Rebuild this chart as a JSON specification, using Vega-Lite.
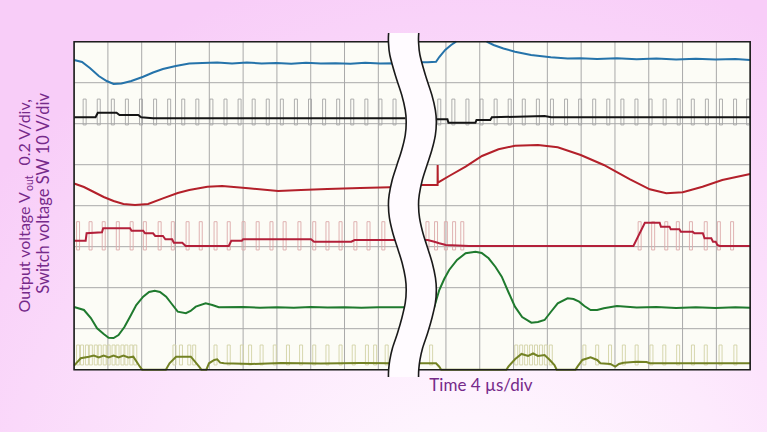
{
  "$schema": "https://vega.github.io/schema/vega-lite/v6.json",
  "width": 767,
  "height": 432,
  "padding": 0,
  "autosize": {"type": "fit", "contains": "padding"},
  "config": {
    "view": {"stroke": null, "fill": {"gradient": "radial", "x1": 0.62, "y1": 0.95, "r1": 0, "x2": 0.62, "y2": 0.95, "r2": 0.8, "stops": [{"offset": 0, "color": "#ffffff"}, {"offset": 0.45, "color": "#fdeafd"}, {"offset": 1, "color": "#f8cdf8"}]}},
    "axis": {"disable": true},
    "legend": {"disable": true}
  },
  "datasets": {
    "one": [{}],
    "gridT": [{"t":0},{"t":1},{"t":2},{"t":3},{"t":4},{"t":5},{"t":6},{"t":7},{"t":8},{"t":9},{"t":10},{"t":11},{"t":12},{"t":13},{"t":14},{"t":15},{"t":16},{"t":17},{"t":18},{"t":19},{"t":20}],
    "gridV": [{"v":0},{"v":1},{"v":2},{"v":3},{"v":4},{"v":5},{"v":6},{"v":7},{"v":8}],
    "pulseK": [{"t":0.312},{"t":0.729},{"t":1.146},{"t":1.562},{"t":1.979},{"t":2.396},{"t":2.812},{"t":3.229},{"t":3.646},{"t":4.062},{"t":4.479},{"t":4.896},{"t":5.312},{"t":5.729},{"t":6.146},{"t":6.562},{"t":6.979},{"t":7.396},{"t":7.812},{"t":8.229},{"t":8.646},{"t":9.062},{"t":9.479},
      {"t":10.803},{"t":11.22},{"t":11.636},{"t":12.053},{"t":12.47},{"t":12.886},{"t":13.303},{"t":13.72},{"t":14.136},{"t":14.553},{"t":14.97},{"t":15.386},{"t":15.803},{"t":16.22},{"t":16.636},{"t":17.053},{"t":17.47},{"t":17.886},{"t":18.303},{"t":18.72},{"t":19.136},{"t":19.553},{"t":19.94}],
    "pulseP": [{"t":0.117},{"t":0.487},{"t":0.876},{"t":1.293},{"t":1.702},{"t":2.093},{"t":2.531},{"t":2.92},{"t":3.358},{"t":3.747},{"t":4.185},{"t":4.575},{"t":5.013},{"t":5.431},{"t":5.839},{"t":6.228},{"t":6.666},{"t":7.104},{"t":7.495},{"t":7.883},{"t":8.321},{"t":8.71},{"t":9.148},
      {"t":10.453},{"t":10.707},{"t":10.999},{"t":11.241},{"t":11.483},{"t":16.73},{"t":17.13},{"t":17.518},{"t":17.86},{"t":18.248},{"t":18.686},{"t":19.074},{"t":19.465}],
    "pulseO": [{"t":0.117},{"t":0.234},{"t":0.38},{"t":0.496},{"t":0.642},{"t":0.759},{"t":0.905},{"t":1.022},{"t":1.168},{"t":1.285},{"t":1.431},{"t":1.547},{"t":1.693},{"t":1.81},
      {"t":2.969},{"t":3.162},{"t":3.407},{"t":3.553},
      {"t":4.184},{"t":4.575},{"t":4.964},{"t":5.206},{"t":5.547},{"t":5.936},{"t":6.327},{"t":6.715},{"t":7.104},{"t":7.495},{"t":7.883},{"t":8.272},{"t":8.663},{"t":8.905},{"t":9.247},
      {"t":10.561},{"t":13.08},{"t":13.226},{"t":13.372},{"t":13.518},{"t":13.664},{"t":13.81},{"t":13.956},{"t":14.102},
      {"t":15.095},{"t":15.474},{"t":15.854},{"t":16.263},{"t":16.642},{"t":17.08},{"t":17.46},{"t":17.869},{"t":18.307},{"t":18.686},{"t":19.124},{"t":19.562}],
    "traces": [
      {"c":"B","g":"b1","t":0,"v":7.554},{"c":"B","g":"b1","t":0.234,"v":7.505},{"c":"B","g":"b1","t":0.467,"v":7.359},{"c":"B","g":"b1","t":0.73,"v":7.163},{"c":"B","g":"b1","t":0.964,"v":7.041},{"c":"B","g":"b1","t":1.168,"v":6.968},{"c":"B","g":"b1","t":1.401,"v":6.98},{"c":"B","g":"b1","t":1.693,"v":7.041},{"c":"B","g":"b1","t":2.044,"v":7.146},{"c":"B","g":"b1","t":2.336,"v":7.249},{"c":"B","g":"b1","t":2.628,"v":7.334},{"c":"B","g":"b1","t":3.007,"v":7.407},{"c":"B","g":"b1","t":3.407,"v":7.468},{"c":"B","g":"b1","t":3.796,"v":7.48},{"c":"B","g":"b1","t":4.234,"v":7.493},{"c":"B","g":"b1","t":4.672,"v":7.468},{"c":"B","g":"b1","t":5.109,"v":7.493},{"c":"B","g":"b1","t":5.547,"v":7.468},{"c":"B","g":"b1","t":5.985,"v":7.48},{"c":"B","g":"b1","t":6.423,"v":7.461},{"c":"B","g":"b1","t":6.861,"v":7.485},{"c":"B","g":"b1","t":7.299,"v":7.468},{"c":"B","g":"b1","t":7.737,"v":7.476},{"c":"B","g":"b1","t":8.175,"v":7.461},{"c":"B","g":"b1","t":8.613,"v":7.485},{"c":"B","g":"b1","t":9.051,"v":7.468},{"c":"B","g":"b1","t":9.489,"v":7.473},{"c":"B","g":"b1","t":9.8,"v":7.47},
      {"c":"B","g":"b2","t":10.1,"v":7.498},{"c":"B","g":"b2","t":10.461,"v":7.498},{"c":"B","g":"b2","t":10.707,"v":7.512},{"c":"B","g":"b2","t":10.803,"v":7.627},{"c":"B","g":"b2","t":10.978,"v":7.798},{"c":"B","g":"b2","t":11.153,"v":7.92},{"c":"B","g":"b2","t":11.299,"v":8.0},
      {"c":"B","g":"b3","t":12.204,"v":8.0},{"c":"B","g":"b3","t":12.409,"v":7.92},{"c":"B","g":"b3","t":12.701,"v":7.834},{"c":"B","g":"b3","t":13.042,"v":7.756},{"c":"B","g":"b3","t":13.518,"v":7.676},{"c":"B","g":"b3","t":14.102,"v":7.62},{"c":"B","g":"b3","t":14.599,"v":7.59},{"c":"B","g":"b3","t":14.978,"v":7.595},{"c":"B","g":"b3","t":15.474,"v":7.578},{"c":"B","g":"b3","t":16.058,"v":7.595},{"c":"B","g":"b3","t":16.642,"v":7.571},{"c":"B","g":"b3","t":17.226,"v":7.588},{"c":"B","g":"b3","t":17.81,"v":7.566},{"c":"B","g":"b3","t":18.394,"v":7.583},{"c":"B","g":"b3","t":18.978,"v":7.566},{"c":"B","g":"b3","t":19.562,"v":7.578},{"c":"B","g":"b3","t":20,"v":7.554},
      {"c":"K","g":"k1","t":0,"v":6.156},{"c":"K","g":"k1","t":0.634,"v":6.156},{"c":"K","g":"k1","t":0.701,"v":6.268},{"c":"K","g":"k1","t":1.255,"v":6.268},{"c":"K","g":"k1","t":1.343,"v":6.212},{"c":"K","g":"k1","t":1.898,"v":6.212},{"c":"K","g":"k1","t":1.985,"v":6.156},{"c":"K","g":"k1","t":2.336,"v":6.132},{"c":"K","g":"k1","t":9.8,"v":6.132},
      {"c":"K","g":"k2","t":10.1,"v":6.107},{"c":"K","g":"k2","t":11.045,"v":6.107},{"c":"K","g":"k2","t":11.074,"v":6.024},{"c":"K","g":"k2","t":11.874,"v":6.024},{"c":"K","g":"k2","t":11.904,"v":6.09},{"c":"K","g":"k2","t":12.312,"v":6.09},{"c":"K","g":"k2","t":12.359,"v":6.156},{"c":"K","g":"k2","t":13.918,"v":6.188},{"c":"K","g":"k2","t":14.111,"v":6.156},{"c":"K","g":"k2","t":20,"v":6.156},
      {"c":"R","g":"r1","t":0,"v":4.54},{"c":"R","g":"r1","t":0.292,"v":4.456},{"c":"R","g":"r1","t":0.584,"v":4.334},{"c":"R","g":"r1","t":0.876,"v":4.212},{"c":"R","g":"r1","t":1.168,"v":4.115},{"c":"R","g":"r1","t":1.46,"v":4.041},{"c":"R","g":"r1","t":1.801,"v":4.017},{"c":"R","g":"r1","t":2.19,"v":4.041},{"c":"R","g":"r1","t":2.628,"v":4.18},{"c":"R","g":"r1","t":3.066,"v":4.31},{"c":"R","g":"r1","t":3.407,"v":4.383},{"c":"R","g":"r1","t":3.942,"v":4.46},{"c":"R","g":"r1","t":4.38,"v":4.48},{"c":"R","g":"r1","t":5.159,"v":4.424},{"c":"R","g":"r1","t":6.035,"v":4.359},{"c":"R","g":"r1","t":6.715,"v":4.38},{"c":"R","g":"r1","t":7.495,"v":4.407},{"c":"R","g":"r1","t":8.467,"v":4.43},{"c":"R","g":"r1","t":9.343,"v":4.449},{"c":"R","g":"r1","t":9.8,"v":4.449},
      {"c":"R","g":"r2","t":10.1,"v":4.505},{"c":"R","g":"r2","t":10.753,"v":4.505},{"c":"R","g":"r2","t":10.755,"v":4.993},{"c":"R","g":"r2","t":10.76,"v":4.56},{"c":"R","g":"r2","t":11.095,"v":4.724},{"c":"R","g":"r2","t":11.582,"v":4.951},{"c":"R","g":"r2","t":12.067,"v":5.212},{"c":"R","g":"r2","t":12.555,"v":5.376},{"c":"R","g":"r2","t":13.042,"v":5.463},{"c":"R","g":"r2","t":13.723,"v":5.48},{"c":"R","g":"r2","t":14.307,"v":5.424},{"c":"R","g":"r2","t":14.987,"v":5.237},{"c":"R","g":"r2","t":15.67,"v":4.993},{"c":"R","g":"r2","t":16.447,"v":4.644},{"c":"R","g":"r2","t":17.031,"v":4.4},{"c":"R","g":"r2","t":17.518,"v":4.302},{"c":"R","g":"r2","t":18.006,"v":4.327},{"c":"R","g":"r2","t":18.59,"v":4.463},{"c":"R","g":"r2","t":19.174,"v":4.627},{"c":"R","g":"r2","t":20,"v":4.773},
      {"c":"M","g":"m1","t":0,"v":3.146},{"c":"M","g":"m1","t":0.342,"v":3.146},{"c":"M","g":"m1","t":0.37,"v":3.327},{"c":"M","g":"m1","t":0.826,"v":3.351},{"c":"M","g":"m1","t":0.86,"v":3.449},{"c":"M","g":"m1","t":1.655,"v":3.449},{"c":"M","g":"m1","t":1.7,"v":3.39},{"c":"M","g":"m1","t":2.044,"v":3.39},{"c":"M","g":"m1","t":2.1,"v":3.327},{"c":"M","g":"m1","t":2.336,"v":3.327},{"c":"M","g":"m1","t":2.4,"v":3.261},{"c":"M","g":"m1","t":2.628,"v":3.261},{"c":"M","g":"m1","t":2.7,"v":3.18},{"c":"M","g":"m1","t":2.9,"v":3.18},{"c":"M","g":"m1","t":2.95,"v":3.098},{"c":"M","g":"m1","t":3.2,"v":3.098},{"c":"M","g":"m1","t":3.3,"v":3.017},{"c":"M","g":"m1","t":4.575,"v":3.017},{"c":"M","g":"m1","t":4.65,"v":3.146},{"c":"M","g":"m1","t":4.964,"v":3.146},{"c":"M","g":"m1","t":5.0,"v":3.18},{"c":"M","g":"m1","t":7.007,"v":3.18},{"c":"M","g":"m1","t":7.1,"v":3.122},{"c":"M","g":"m1","t":8.2,"v":3.122},{"c":"M","g":"m1","t":8.3,"v":3.163},{"c":"M","g":"m1","t":9.8,"v":3.163},
      {"c":"M","g":"m2","t":10.1,"v":3.163},{"c":"M","g":"m2","t":10.461,"v":3.163},{"c":"M","g":"m2","t":10.657,"v":3.122},{"c":"M","g":"m2","t":10.803,"v":3.083},{"c":"M","g":"m2","t":10.999,"v":3.041},{"c":"M","g":"m2","t":11.679,"v":3.017},{"c":"M","g":"m2","t":16.546,"v":3.017},{"c":"M","g":"m2","t":16.885,"v":3.585},{"c":"M","g":"m2","t":17.323,"v":3.585},{"c":"M","g":"m2","t":17.36,"v":3.488},{"c":"M","g":"m2","t":17.615,"v":3.488},{"c":"M","g":"m2","t":17.65,"v":3.424},{"c":"M","g":"m2","t":17.907,"v":3.424},{"c":"M","g":"m2","t":17.95,"v":3.366},{"c":"M","g":"m2","t":18.3,"v":3.366},{"c":"M","g":"m2","t":18.35,"v":3.327},{"c":"M","g":"m2","t":18.6,"v":3.327},{"c":"M","g":"m2","t":18.65,"v":3.205},{"c":"M","g":"m2","t":18.85,"v":3.205},{"c":"M","g":"m2","t":18.9,"v":3.122},{"c":"M","g":"m2","t":18.98,"v":3.122},{"c":"M","g":"m2","t":19.028,"v":3.041},{"c":"M","g":"m2","t":19.1,"v":3.017},{"c":"M","g":"m2","t":20,"v":3.017},
      {"c":"G","g":"g1","t":0,"v":1.53},{"c":"G","g":"g1","t":0.292,"v":1.456},{"c":"G","g":"g1","t":0.496,"v":1.261},{"c":"G","g":"g1","t":0.68,"v":1.01},{"c":"G","g":"g1","t":0.876,"v":0.871},{"c":"G","g":"g1","t":1.022,"v":0.78},{"c":"G","g":"g1","t":1.168,"v":0.773},{"c":"G","g":"g1","t":1.314,"v":0.846},{"c":"G","g":"g1","t":1.489,"v":1.041},{"c":"G","g":"g1","t":1.655,"v":1.293},{"c":"G","g":"g1","t":1.839,"v":1.578},{"c":"G","g":"g1","t":2.044,"v":1.78},{"c":"G","g":"g1","t":2.219,"v":1.895},{"c":"G","g":"g1","t":2.385,"v":1.927},{"c":"G","g":"g1","t":2.54,"v":1.895},{"c":"G","g":"g1","t":2.724,"v":1.78},{"c":"G","g":"g1","t":2.891,"v":1.602},{"c":"G","g":"g1","t":3.066,"v":1.415},{"c":"G","g":"g1","t":3.308,"v":1.376},{"c":"G","g":"g1","t":3.445,"v":1.432},{"c":"G","g":"g1","t":3.6,"v":1.537},{"c":"G","g":"g1","t":3.892,"v":1.62},{"c":"G","g":"g1","t":4.088,"v":1.578},{"c":"G","g":"g1","t":4.283,"v":1.522},{"c":"G","g":"g1","t":5.0,"v":1.53},{"c":"G","g":"g1","t":5.5,"v":1.51},{"c":"G","g":"g1","t":6.0,"v":1.525},{"c":"G","g":"g1","t":6.5,"v":1.51},{"c":"G","g":"g1","t":7.0,"v":1.53},{"c":"G","g":"g1","t":7.5,"v":1.515},{"c":"G","g":"g1","t":8.0,"v":1.525},{"c":"G","g":"g1","t":8.5,"v":1.51},{"c":"G","g":"g1","t":9.0,"v":1.525},{"c":"G","g":"g1","t":9.8,"v":1.522},
      {"c":"G","g":"g2","t":10.5,"v":1.537},{"c":"G","g":"g2","t":10.657,"v":1.537},{"c":"G","g":"g2","t":10.715,"v":1.7},{"c":"G","g":"g2","t":10.803,"v":1.944},{"c":"G","g":"g2","t":10.949,"v":2.212},{"c":"G","g":"g2","t":11.095,"v":2.432},{"c":"G","g":"g2","t":11.328,"v":2.676},{"c":"G","g":"g2","t":11.582,"v":2.839},{"c":"G","g":"g2","t":11.874,"v":2.878},{"c":"G","g":"g2","t":12.058,"v":2.846},{"c":"G","g":"g2","t":12.263,"v":2.717},{"c":"G","g":"g2","t":12.467,"v":2.505},{"c":"G","g":"g2","t":12.651,"v":2.268},{"c":"G","g":"g2","t":12.847,"v":1.895},{"c":"G","g":"g2","t":13.042,"v":1.537},{"c":"G","g":"g2","t":13.255,"v":1.285},{"c":"G","g":"g2","t":13.527,"v":1.146},{"c":"G","g":"g2","t":13.723,"v":1.163},{"c":"G","g":"g2","t":13.918,"v":1.212},{"c":"G","g":"g2","t":14.102,"v":1.407},{"c":"G","g":"g2","t":14.307,"v":1.62},{"c":"G","g":"g2","t":14.599,"v":1.741},{"c":"G","g":"g2","t":14.774,"v":1.724},{"c":"G","g":"g2","t":14.94,"v":1.659},{"c":"G","g":"g2","t":15.095,"v":1.554},{"c":"G","g":"g2","t":15.279,"v":1.456},{"c":"G","g":"g2","t":15.474,"v":1.456},{"c":"G","g":"g2","t":15.67,"v":1.498},{"c":"G","g":"g2","t":16.058,"v":1.554},{"c":"G","g":"g2","t":16.642,"v":1.517},{"c":"G","g":"g2","t":17.226,"v":1.529},{"c":"G","g":"g2","t":17.81,"v":1.505},{"c":"G","g":"g2","t":18.394,"v":1.524},{"c":"G","g":"g2","t":18.978,"v":1.505},{"c":"G","g":"g2","t":19.562,"v":1.522},{"c":"G","g":"g2","t":20,"v":1.512},
      {"c":"O","g":"o1","t":0,"v":0.1},{"c":"O","g":"o1","t":0.196,"v":0.278},{"c":"O","g":"o1","t":0.438,"v":0.317},{"c":"O","g":"o1","t":0.584,"v":0.346},{"c":"O","g":"o1","t":0.73,"v":0.298},{"c":"O","g":"o1","t":0.876,"v":0.346},{"c":"O","g":"o1","t":1.022,"v":0.298},{"c":"O","g":"o1","t":1.168,"v":0.346},{"c":"O","g":"o1","t":1.314,"v":0.298},{"c":"O","g":"o1","t":1.46,"v":0.346},{"c":"O","g":"o1","t":1.606,"v":0.298},{"c":"O","g":"o1","t":1.752,"v":0.317},{"c":"O","g":"o1","t":1.947,"v":0.073},{"c":"O","g":"o1","t":2.015,"v":0},{"c":"O","g":"o1","t":2.715,"v":0},{"c":"O","g":"o1","t":2.823,"v":0.156},{"c":"O","g":"o1","t":3.016,"v":0.317},{"c":"O","g":"o1","t":3.454,"v":0.317},{"c":"O","g":"o1","t":3.699,"v":0.073},{"c":"O","g":"o1","t":3.766,"v":0},{"c":"O","g":"o1","t":3.912,"v":0},{"c":"O","g":"o1","t":3.991,"v":0.156},{"c":"O","g":"o1","t":4.146,"v":0.237},{"c":"O","g":"o1","t":4.234,"v":0.254},{"c":"O","g":"o1","t":4.321,"v":0.171},{"c":"O","g":"o1","t":4.438,"v":0.156},{"c":"O","g":"o1","t":5.255,"v":0.139},{"c":"O","g":"o1","t":6.131,"v":0.163},{"c":"O","g":"o1","t":7.299,"v":0.151},{"c":"O","g":"o1","t":8.467,"v":0.163},{"c":"O","g":"o1","t":9.44,"v":0.156},{"c":"O","g":"o1","t":9.8,"v":0.156},
      {"c":"O","g":"o2","t":10.1,"v":0.156},{"c":"O","g":"o2","t":10.707,"v":0.156},{"c":"O","g":"o2","t":10.803,"v":0.073},{"c":"O","g":"o2","t":10.861,"v":0},{"c":"O","g":"o2","t":12.788,"v":0},{"c":"O","g":"o2","t":12.847,"v":0.073},{"c":"O","g":"o2","t":13.042,"v":0.254},{"c":"O","g":"o2","t":13.235,"v":0.383},{"c":"O","g":"o2","t":13.431,"v":0.334},{"c":"O","g":"o2","t":13.577,"v":0.395},{"c":"O","g":"o2","t":13.723,"v":0.334},{"c":"O","g":"o2","t":13.918,"v":0.359},{"c":"O","g":"o2","t":14.073,"v":0.237},{"c":"O","g":"o2","t":14.21,"v":0.115},{"c":"O","g":"o2","t":14.277,"v":0},{"c":"O","g":"o2","t":14.832,"v":0},{"c":"O","g":"o2","t":14.891,"v":0.073},{"c":"O","g":"o2","t":15.036,"v":0.237},{"c":"O","g":"o2","t":15.279,"v":0.302},{"c":"O","g":"o2","t":15.474,"v":0.237},{"c":"O","g":"o2","t":15.571,"v":0.156},{"c":"O","g":"o2","t":15.863,"v":0.139},{"c":"O","g":"o2","t":16.009,"v":0.073},{"c":"O","g":"o2","t":16.117,"v":0.139},{"c":"O","g":"o2","t":16.254,"v":0.171},{"c":"O","g":"o2","t":16.642,"v":0.195},{"c":"O","g":"o2","t":16.934,"v":0.188},{"c":"O","g":"o2","t":17.031,"v":0.156},{"c":"O","g":"o2","t":20,"v":0.156}
    ],
    "brk": [
      {"v":8.212,"l":9.305,"r":10.196},{"v":8.0,"l":9.299,"r":10.19},{"v":7.676,"l":9.34,"r":10.231},{"v":7.188,"l":9.501,"r":10.392},{"v":6.7,"l":9.693,"r":10.584},{"v":6.334,"l":9.796,"r":10.687},{"v":6.041,"l":9.825,"r":10.716},{"v":5.724,"l":9.796,"r":10.687},{"v":5.359,"l":9.693,"r":10.584},{"v":4.993,"l":9.55,"r":10.441},{"v":4.627,"l":9.41,"r":10.301},{"v":4.261,"l":9.32,"r":10.211},{"v":4.017,"l":9.299,"r":10.19},{"v":3.7,"l":9.328,"r":10.219},{"v":3.334,"l":9.428,"r":10.319},{"v":2.968,"l":9.568,"r":10.459},{"v":2.602,"l":9.705,"r":10.596},{"v":2.237,"l":9.799,"r":10.69},{"v":1.944,"l":9.825,"r":10.716},{"v":1.627,"l":9.796,"r":10.687},{"v":1.261,"l":9.696,"r":10.587},{"v":0.895,"l":9.568,"r":10.459},{"v":0.529,"l":9.419,"r":10.31},{"v":0.237,"l":9.34,"r":10.231},{"v":0,"l":9.305,"r":10.196},{"v":-0.178,"l":9.299,"r":10.19}
    ]
  },
  "layer": [
    {
      "data": {"name": "one"},
      "mark": {"type": "rect", "fill": "#fcfcf6"},
      "encoding": {
        "x": {"datum": 0, "type": "quantitative", "scale": {"domain": [-2.044, 20.35], "nice": false, "zero": false}, "axis": null},
        "x2": {"datum": 20},
        "y": {"datum": 0, "type": "quantitative", "scale": {"domain": [-1.52, 9.017], "nice": false, "zero": false}, "axis": null},
        "y2": {"datum": 8}
      }
    },
    {
      "data": {"name": "gridT"},
      "mark": {"type": "rule", "stroke": "#a9a9a9", "strokeWidth": 1},
      "encoding": {
        "x": {"field": "t", "type": "quantitative"},
        "y": {"datum": 0, "type": "quantitative"},
        "y2": {"datum": 8}
      }
    },
    {
      "data": {"name": "gridV"},
      "mark": {"type": "rule", "stroke": "#a9a9a9", "strokeWidth": 1},
      "encoding": {
        "y": {"field": "v", "type": "quantitative"},
        "x": {"datum": 0, "type": "quantitative"},
        "x2": {"datum": 20}
      }
    },
    {
      "data": {"name": "pulseK"},
      "mark": {"type": "bar", "width": 3, "filled": false, "stroke": "#a6a6a6", "strokeWidth": 0.9},
      "encoding": {
        "x": {"field": "t", "type": "quantitative"},
        "y": {"datum": 5.97, "type": "quantitative"},
        "y2": {"datum": 6.6}
      }
    },
    {
      "data": {"name": "pulseP"},
      "mark": {"type": "bar", "width": 3, "filled": false, "stroke": "#dcaaaa", "strokeWidth": 0.9},
      "encoding": {
        "x": {"field": "t", "type": "quantitative"},
        "y": {"datum": 2.92, "type": "quantitative"},
        "y2": {"datum": 3.61}
      }
    },
    {
      "data": {"name": "pulseO"},
      "mark": {"type": "bar", "width": 3, "filled": false, "stroke": "#d3d3a6", "strokeWidth": 0.9},
      "encoding": {
        "x": {"field": "t", "type": "quantitative"},
        "y": {"datum": 0.115, "type": "quantitative"},
        "y2": {"datum": 0.602}
      }
    },
    {
      "data": {"name": "traces"},
      "mark": {"type": "line", "strokeWidth": 2, "interpolate": "linear"},
      "encoding": {
        "x": {"field": "t", "type": "quantitative"},
        "y": {"field": "v", "type": "quantitative"},
        "detail": {"field": "g", "type": "nominal"},
        "color": {"field": "c", "type": "nominal", "legend": null, "scale": {"domain": ["B", "K", "R", "M", "G", "O"], "range": ["#2573aa", "#151515", "#b3202a", "#b3203a", "#1f7a2e", "#738224"]}}
      }
    },
    {
      "data": {"name": "one"},
      "mark": {"type": "rect", "fill": null, "stroke": "#1e1e1e", "strokeWidth": 1.6},
      "encoding": {
        "x": {"datum": 0, "type": "quantitative"},
        "x2": {"datum": 20},
        "y": {"datum": 0, "type": "quantitative"},
        "y2": {"datum": 8}
      }
    },
    {
      "data": {"name": "brk"},
      "mark": {"type": "area", "orient": "horizontal", "fill": "#fffbff", "interpolate": "cardinal"},
      "encoding": {
        "y": {"field": "v", "type": "quantitative"},
        "x": {"field": "l", "type": "quantitative"},
        "x2": {"field": "r"}
      }
    },
    {
      "data": {"name": "brk"},
      "mark": {"type": "line", "stroke": "#1a1a1a", "strokeWidth": 1.6, "interpolate": "cardinal"},
      "encoding": {
        "y": {"field": "v", "type": "quantitative"},
        "x": {"field": "l", "type": "quantitative"},
        "order": {"field": "v", "type": "quantitative"}
      }
    },
    {
      "data": {"name": "brk"},
      "mark": {"type": "line", "stroke": "#1a1a1a", "strokeWidth": 1.6, "interpolate": "cardinal"},
      "encoding": {
        "y": {"field": "v", "type": "quantitative"},
        "x": {"field": "r", "type": "quantitative"},
        "order": {"field": "v", "type": "quantitative"}
      }
    },
    {
      "data": {"name": "one"},
      "mark": {"type": "text", "text": "Time 4 µs/div", "align": "left", "baseline": "alphabetic", "font": "Lato", "fontSize": 17, "fill": "#762a8a"},
      "encoding": {"x": {"datum": 10.51, "type": "quantitative"}, "y": {"datum": -0.52, "type": "quantitative"}}
    },
    {
      "data": {"name": "one"},
      "mark": {"type": "text", "text": "Output voltage V", "angle": 270, "align": "right", "baseline": "alphabetic", "font": "Lato", "fontSize": 16, "fill": "#762a8a"},
      "encoding": {"x": {"datum": -1.314, "type": "quantitative"}, "y": {"datum": 4.33, "type": "quantitative"}}
    },
    {
      "data": {"name": "one"},
      "mark": {"type": "text", "text": "out", "angle": 270, "align": "left", "baseline": "alphabetic", "font": "Lato", "fontSize": 10.5, "fill": "#762a8a"},
      "encoding": {"x": {"datum": -1.226, "type": "quantitative"}, "y": {"datum": 4.357, "type": "quantitative"}}
    },
    {
      "data": {"name": "one"},
      "mark": {"type": "text", "text": "0.2 V/div,", "angle": 270, "align": "left", "baseline": "alphabetic", "font": "Lato", "fontSize": 16, "fill": "#762a8a"},
      "encoding": {"x": {"datum": -1.314, "type": "quantitative"}, "y": {"datum": 4.98, "type": "quantitative"}}
    },
    {
      "data": {"name": "one"},
      "mark": {"type": "text", "text": "Switch voltage SW 10 V/div", "angle": 270, "align": "center", "baseline": "alphabetic", "font": "Lato", "fontSize": 16.5, "fill": "#762a8a"},
      "encoding": {"x": {"datum": -0.73, "type": "quantitative"}, "y": {"datum": 4.3, "type": "quantitative"}}
    }
  ]
}
